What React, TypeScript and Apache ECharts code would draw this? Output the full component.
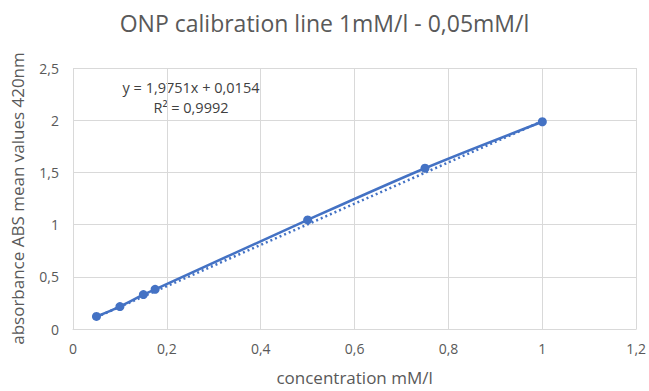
import React, { useEffect, useRef } from "react";
import * as echarts from "echarts";

const TITLE = "ONP calibration line 1mM/l - 0,05mM/l";
const X_NAME = "concentration mM/l";
const Y_NAME = "absorbance ABS mean values 420nm";
const concentration = [0.05, 0.1, 0.15, 0.175, 0.5, 0.75, 1];
const absorbance = [0.12, 0.215, 0.33, 0.38, 1.045, 1.54, 1.985];
const slope = 1.9751;
const intercept = 0.0154;
const equationLines = ["y = 1,9751x + 0,0154", "R² = 0,9992"];

const FONT = "'Open Sans', 'Liberation Sans', sans-serif";
const fmt = (v: number) => String(Math.round(v * 100) / 100).replace(".", ",");

export default function App() {
  const ref = useRef<HTMLDivElement>(null);
  useEffect(() => {
    if (!ref.current) return;
    const chart = echarts.init(ref.current, undefined, { renderer: "svg" });
    const xMin = Math.min(...concentration);
    const xMax = Math.max(...concentration);
    const trend = [xMin, xMax].map((x) => [x, slope * x + intercept]);
    chart.setOption({
      animation: false,
      backgroundColor: "#ffffff",
      title: {
        text: TITLE,
        left: "center",
        top: 6,
        textStyle: { fontFamily: FONT, fontSize: 23, fontWeight: "normal", color: "#595959" },
      },
      grid: { left: 73, right: 11, top: 68, bottom: 60, containLabel: false },
      xAxis: {
        type: "value",
        min: 0,
        max: 1.2,
        interval: 0.2,
        name: X_NAME,
        nameLocation: "middle",
        nameGap: 40,
        nameTextStyle: { fontFamily: FONT, fontSize: 17, color: "#595959" },
        axisLine: { show: true, lineStyle: { color: "#d9d9d9", width: 1 } },
        axisTick: { show: false },
        axisLabel: { fontFamily: FONT, fontSize: 14, color: "#595959", margin: 12, formatter: fmt },
        splitLine: { show: true, lineStyle: { color: "#d9d9d9", width: 1 } },
      },
      yAxis: {
        type: "value",
        min: 0,
        max: 2.5,
        interval: 0.5,
        name: Y_NAME,
        nameLocation: "middle",
        nameGap: 47,
        nameTextStyle: { fontFamily: FONT, fontSize: 17, color: "#595959" },
        axisLine: { show: false },
        axisTick: { show: false },
        axisLabel: { fontFamily: FONT, fontSize: 14, color: "#595959", margin: 14, formatter: fmt },
        splitLine: { show: true, lineStyle: { color: "#d9d9d9", width: 1 } },
      },
      series: [
        {
          type: "line",
          data: concentration.map((x, i) => [x, absorbance[i]]),
          smooth: 0.3,
          symbol: "circle",
          symbolSize: 9,
          itemStyle: { color: "#4472C4" },
          lineStyle: { color: "#4472C4", width: 2.5 },
          z: 3,
        },
        {
          type: "line",
          data: trend,
          symbol: "none",
          lineStyle: { color: "#4472C4", width: 2.5, type: [2, 3] },
          z: 2,
        },
      ],
      graphic: [
        {
          type: "text",
          x: 191,
          y: 77,
          style: {
            text: equationLines.join("\n"),
            align: "center",
            verticalAlign: "top",
            fontFamily: FONT,
            fontSize: 14.5,
            lineHeight: 20,
            fill: "#404040",
          },
        },
      ],
    });
    return () => chart.dispose();
  }, []);
  return (
    <div
      ref={ref}
      style={{ position: "absolute", left: 0, top: 0, width: 649, height: 391 }}
    />
  );
}
